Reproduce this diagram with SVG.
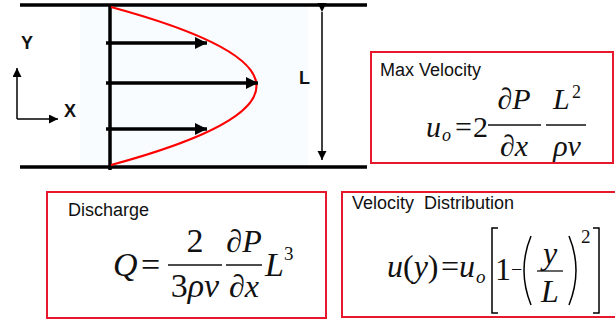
<svg xmlns="http://www.w3.org/2000/svg" width="615" height="322" viewBox="0 0 615 322">
<defs>
<style>
.lbl{font-family:"Liberation Sans",Arial,sans-serif;font-size:18px;fill:#111}
.ax{font-family:"Liberation Sans",Arial,sans-serif;font-size:18px;font-weight:bold;fill:#111}
.m{font-family:"Liberation Serif","Times New Roman","DejaVu Serif",serif;fill:#111}
.i{font-style:italic}
.box{fill:none;stroke:#e8182c;stroke-width:2}
.wall{stroke:#000;stroke-width:3.5;fill:none}
.vel{stroke:#000;stroke-width:3.5;fill:none}
.thin{stroke:#000;stroke-width:1.5;fill:none}
.bar{stroke:#111;stroke-width:1.3}
</style>
<marker id="ah" markerUnits="userSpaceOnUse" markerWidth="14" markerHeight="12" refX="12" refY="6" orient="auto">
<path d="M0,0 L12,6 L0,12 Z" fill="#000"/>
</marker>
<marker id="ahs" markerUnits="userSpaceOnUse" markerWidth="10" markerHeight="10" refX="9" refY="4.5" orient="auto">
<path d="M0,0 L9,4.5 L0,9 Z" fill="#000"/>
</marker>
</defs>
<rect x="0" y="0" width="615" height="322" fill="#fff"/>
<rect x="80" y="5" width="228" height="162" fill="#f8fcff"/>
<g id="channel">
<line class="wall" x1="20" y1="5" x2="367" y2="5"/>
<line class="wall" x1="20" y1="167" x2="367" y2="167"/>
<line class="wall" x1="110" y1="5" x2="110" y2="170"/>
<path d="M111,7 Q402,86 111,165" fill="none" stroke="#f00" stroke-width="2.2"/>
</g>
<g id="connectors">
<line class="vel" x1="106" y1="43" x2="207" y2="43" marker-end="url(#ah)"/>
<line class="vel" x1="106" y1="83" x2="258" y2="83" marker-end="url(#ah)"/>
<line class="vel" x1="106" y1="129" x2="207" y2="129" marker-end="url(#ah)"/>
<line class="thin" x1="322" y1="12" x2="322" y2="160" marker-start="url(#ahs)" marker-end="url(#ahs)"/>
<line class="thin" x1="17" y1="119" x2="17" y2="68" marker-end="url(#ahs)"/>
<line class="thin" x1="17" y1="119" x2="58" y2="119" marker-end="url(#ahs)"/>
</g>
<g id="labels">
<text class="ax" x="21" y="49">Y</text>
<text class="ax" x="64" y="117">X</text>
<text class="ax" x="299" y="84">L</text>
</g>
<g id="max-velocity">
<rect class="box" x="371" y="52" width="242" height="111"/>
<text class="lbl" x="380" y="76">Max Velocity</text>
<text class="m i" x="426" y="137" font-size="30">u</text>
<text class="m i" x="442" y="141" font-size="18">o</text>
<text class="m" x="455" y="137" font-size="30">=</text>
<text class="m" x="473" y="137" font-size="30">2</text>
<line class="bar" x1="488" y1="125" x2="541" y2="125"/>
<text class="m i" x="514" y="109" font-size="30" text-anchor="middle">∂P</text>
<text class="m i" x="514" y="156" font-size="30" text-anchor="middle">∂x</text>
<line class="bar" x1="546" y1="125" x2="586" y2="125"/>
<text class="m i" x="553" y="109" font-size="30">L</text>
<text class="m" x="572" y="98" font-size="18">2</text>
<text class="m i" x="567" y="156" font-size="30" text-anchor="middle">ρν</text>
</g>
<g id="discharge">
<rect class="box" x="47" y="192" width="279" height="126"/>
<text class="lbl" x="68" y="216">Discharge</text>
<text class="m i" x="113" y="276" font-size="34">Q</text>
<text class="m" x="141" y="276" font-size="34">=</text>
<line class="bar" x1="168" y1="265" x2="222" y2="265"/>
<text class="m" x="195" y="252" font-size="34" text-anchor="middle">2</text>
<text class="m" x="195" y="297" font-size="34" text-anchor="middle">3<tspan class="i">ρν</tspan></text>
<line class="bar" x1="226" y1="265" x2="262" y2="265"/>
<text class="m i" x="244" y="252" font-size="32" text-anchor="middle">∂P</text>
<text class="m i" x="244" y="297" font-size="32" text-anchor="middle">∂x</text>
<text class="m i" x="265" y="276" font-size="34">L</text>
<text class="m" x="284" y="260" font-size="19">3</text>
</g>
<g id="velocity-distribution">
<rect class="box" x="342" y="192" width="285" height="125"/>
<text class="lbl" x="352" y="209" xml:space="preserve">Velocity  Distribution</text>
<text class="m" x="387" y="277" font-size="32"><tspan class="i">u</tspan>(<tspan class="i">y</tspan>)</text>
<text class="m" x="441" y="277" font-size="32">=</text>
<text class="m i" x="459" y="277" font-size="32">u</text>
<text class="m i" x="476" y="283" font-size="19">o</text>
<path class="thin" d="M498,228 H492 V313 H498"/>
<text class="m" x="495" y="280" font-size="32">1</text>
<text class="m" x="511" y="276" font-size="20">−</text>
<path class="thin" d="M531,236 Q517,270 531,305"/>
<line class="bar" x1="537" y1="271" x2="563" y2="271"/>
<text class="m i" x="550" y="264" font-size="32" text-anchor="middle">y</text>
<text class="m i" x="550" y="302" font-size="32" text-anchor="middle">L</text>
<path class="thin" d="M569,236 Q583,270 569,305"/>
<text class="m" x="581" y="243" font-size="19">2</text>
<path class="thin" d="M593,228 H599 V313 H593"/>
</g>
</svg>
